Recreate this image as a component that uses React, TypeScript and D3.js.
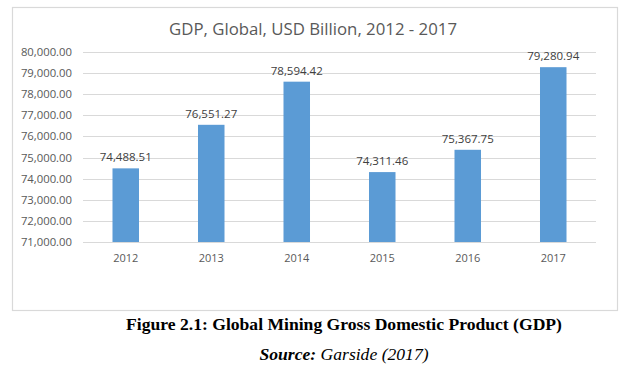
import { useEffect, useRef } from 'react'
import * as d3 from 'd3'

const years = ['2012', '2013', '2014', '2015', '2016', '2017']
const gdp = [74488.51, 76551.27, 78594.42, 74311.46, 75367.75, 79280.94]
const yTicks = [71000, 72000, 73000, 74000, 75000, 76000, 77000, 78000, 79000, 80000]

const title = 'GDP, Global, USD Billion, 2012 - 2017'
const caption = 'Figure 2.1: Global Mining Gross Domestic Product (GDP)'

export default function App() {
  const svgRef = useRef<SVGSVGElement>(null)

  useEffect(() => {
    if (!svgRef.current) return
    const svg = d3.select(svgRef.current)
    svg.selectAll('*').remove()

    const width = 630
    const height = 369
    const margin = { top: 52, right: 34, bottom: 127, left: 83 }
    const innerW = width - margin.left - margin.right
    const innerH = height - margin.top - margin.bottom

    svg.append('rect').attr('width', width).attr('height', height).attr('fill', '#fff')

    // chart frame
    svg.append('rect')
      .attr('x', 12.5).attr('y', 7.5).attr('width', 605).attr('height', 303)
      .attr('fill', '#fff').attr('stroke', '#d9d9d9').attr('stroke-width', 1.2)

    svg.append('text')
      .attr('x', 313).attr('y', 35)
      .attr('text-anchor', 'middle').attr('font-family', 'Open Sans, sans-serif')
      .attr('font-size', '16.8px').attr('fill', '#595959')
      .text(title)

    const g = svg.append('g').attr('transform', `translate(${margin.left},${margin.top})`)

    const x = d3.scaleBand().domain(years).range([0, innerW]).paddingInner(0.69).paddingOuter(0.345)
    const y = d3.scaleLinear().domain([71000, 80000]).range([innerH, 0])

    // Grid
    g.selectAll('line.grid')
      .data(yTicks)
      .join('line')
      .attr('class', 'grid')
      .attr('x1', 0).attr('x2', innerW)
      .attr('y1', d => Math.round(y(d)) + 0.5).attr('y2', d => Math.round(y(d)) + 0.5)
      .attr('stroke', '#d9d9d9').attr('stroke-width', 1)

    // Y labels
    g.selectAll('text.ylab')
      .data(yTicks)
      .join('text')
      .attr('class', 'ylab')
      .attr('x', -11).attr('y', d => y(d)).attr('dy', '0.35em')
      .attr('text-anchor', 'end').attr('font-family', 'Open Sans, sans-serif')
      .attr('font-size', '11.3px').attr('fill', '#595959')
      .text(d => d3.format(',.2f')(d))

    const data = years.map((yr, i) => ({ yr, v: gdp[i] }))

    // Bars
    g.selectAll('rect.bar')
      .data(data)
      .join('rect')
      .attr('class', 'bar')
      .attr('x', d => x(d.yr)!)
      .attr('y', d => y(d.v))
      .attr('width', x.bandwidth())
      .attr('height', d => innerH - y(d.v))
      .attr('fill', '#5b9bd5')

    // Value labels
    g.selectAll('text.val')
      .data(data)
      .join('text')
      .attr('class', 'val')
      .attr('x', d => x(d.yr)! + x.bandwidth() / 2).attr('y', d => y(d.v) - 7)
      .attr('text-anchor', 'middle').attr('font-family', 'Open Sans, sans-serif')
      .attr('font-size', '11.5px').attr('fill', '#404040')
      .text(d => d3.format(',.2f')(d.v))

    // X labels
    g.selectAll('text.xlab')
      .data(years)
      .join('text')
      .attr('class', 'xlab')
      .attr('x', d => x(d)! + x.bandwidth() / 2).attr('y', innerH + 20)
      .attr('text-anchor', 'middle').attr('font-family', 'Open Sans, sans-serif')
      .attr('font-size', '11px').attr('fill', '#595959')
      .text(d => d)

    // Caption below the frame
    svg.append('text')
      .attr('x', 344).attr('y', 330)
      .attr('text-anchor', 'middle').attr('font-family', 'Liberation Serif, Times New Roman, serif')
      .attr('font-size', '17.6px').attr('font-weight', 'bold').attr('fill', '#000')
      .text(caption)

    const src = svg.append('text')
      .attr('x', 344).attr('y', 360)
      .attr('text-anchor', 'middle').attr('font-family', 'Liberation Serif, Times New Roman, serif')
      .attr('font-size', '17.6px').attr('font-style', 'italic').attr('fill', '#000')
    src.append('tspan').attr('font-weight', 'bold').text('Source:')
    src.append('tspan').text(' Garside (2017)')
  }, [])

  return (
    <div style={{ position: 'absolute', left: 0, top: 0 }}>
      <svg ref={svgRef} width={630} height={369} style={{ display: 'block' }} />
    </div>
  )
}
